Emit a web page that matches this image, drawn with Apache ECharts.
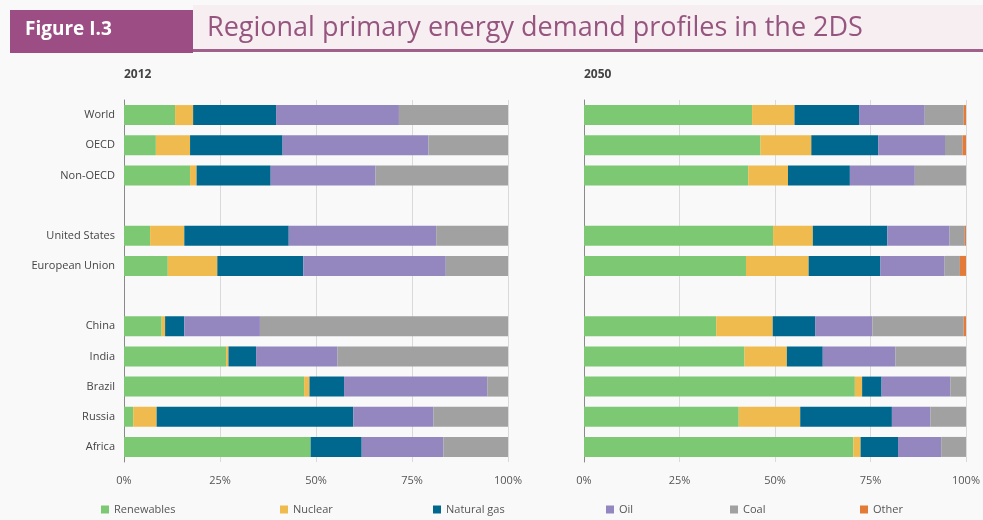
<!DOCTYPE html>
<html>
<head>
<meta charset="utf-8">
<script src="https://cdn.jsdelivr.net/npm/echarts@6/dist/echarts.min.js"></script>
<style>
html,body{margin:0;padding:0;background:#f9f9f9;}
#main{width:983px;height:520px;}
</style>
</head>
<body>
<div id="main"></div>
<script>
// ---- Data ----
var categories = ['World', 'OECD', 'Non-OECD', ' ', 'United States', 'European Union', '  ', 'China', 'India', 'Brazil', 'Russia', 'Africa'];
var tickLabels = ['0%', '25%', '50%', '75%', '100%'];
var seriesNames = ['Renewables', 'Nuclear', 'Natural gas', 'Oil', 'Coal', 'Other'];
var panelTitles = ['2012', '2050'];

var renewables2012 = [13.3, 8.3, 17.2, null, 6.8, 11.4, null, 9.8, 26.6, 46.9, 2.4, 48.6];
var nuclear2012    = [4.7, 8.9, 1.7, null, 8.9, 12.9, null, 0.9, 0.6, 1.4, 6.1, 0];
var gas2012        = [21.6, 24.1, 19.3, null, 27.2, 22.4, null, 5.0, 7.2, 9.0, 51.2, 13.3];
var oil2012        = [32.0, 38.0, 27.3, null, 38.4, 37.1, null, 19.7, 21.2, 37.3, 20.9, 21.3];
var coal2012       = [28.4, 20.7, 34.5, null, 18.7, 16.2, null, 64.6, 44.4, 5.4, 19.4, 16.8];
var other2012      = [0, 0, 0, null, 0, 0, null, 0, 0, 0, 0, 0];

var renewables2050 = [44.0, 46.2, 43.0, null, 49.5, 42.4, null, 34.6, 42.0, 70.9, 40.5, 70.5];
var nuclear2050    = [11.1, 13.3, 10.4, null, 10.4, 16.4, null, 14.8, 11.1, 1.9, 16.1, 1.9];
var gas2050        = [16.9, 17.5, 16.2, null, 19.5, 18.8, null, 11.1, 9.4, 5.1, 24.0, 9.8];
var oil2050        = [17.2, 17.5, 17.0, null, 16.3, 16.8, null, 15.0, 19.0, 18.0, 10.1, 11.3];
var coal2050       = [10.2, 4.6, 13.4, null, 4.0, 4.0, null, 23.9, 18.5, 4.1, 9.3, 6.5];
var other2050      = [0.6, 0.9, 0, null, 0.3, 1.6, null, 0.6, 0, 0, 0, 0];

// ---- Styles ----
var colors = ['#7cc873', '#efbb4e', '#00688e', '#9487bf', '#a1a1a1', '#e47a37'];
var data2012 = [renewables2012, nuclear2012, gas2012, oil2012, coal2012, other2012];
var data2050 = [renewables2050, nuclear2050, gas2050, oil2050, coal2050, other2050];
var FONT = 'Open Sans';

function makeXAxis(gi) {
  return {
    gridIndex: gi, type: 'value', min: 0, max: 100, interval: 25,
    axisLine: {show: false}, axisTick: {show: false},
    splitLine: {show: true, lineStyle: {color: '#dadada', width: 1}},
    axisLabel: {
      margin: 13, color: '#555', fontSize: 11, fontFamily: FONT,
      formatter: function (v) { return tickLabels[Math.round(v / 25)]; }
    }
  };
}
function makeYAxis(gi, showLabels) {
  return {
    gridIndex: gi, type: 'category', data: categories, inverse: true,
    axisLine: {show: true, lineStyle: {color: '#8a8a8a', width: 1}},
    axisTick: {show: false},
    axisLabel: {show: showLabels, margin: 9, color: '#444', fontSize: 11, fontFamily: FONT}
  };
}

var series = [];
[data2012, data2050].forEach(function (panel, gi) {
  panel.forEach(function (arr, si) {
    series.push({
      name: seriesNames[si], type: 'bar', stack: 'p' + gi,
      xAxisIndex: gi, yAxisIndex: gi,
      barWidth: 20,
      itemStyle: {color: colors[si]},
      data: arr
    });
  });
});

var legendX = [96, 275, 428, 601, 725, 855];
var legends = seriesNames.map(function (n, i) {
  return {
    data: [n], left: legendX[i], top: 499, itemWidth: 8, itemHeight: 8, itemGap: 5,
    icon: 'rect',
    textStyle: {color: '#555', fontSize: 11, fontFamily: FONT}
  };
});

var chart = echarts.init(document.getElementById('main'));
chart.setOption({
  backgroundColor: '#f9f9f9',
  animation: false,
  color: colors,
  legend: legends,
  grid: [
    {left: 124, width: 384, top: 100, height: 362},
    {left: 584, width: 384, top: 100, height: 362}
  ],
  xAxis: [makeXAxis(0), makeXAxis(1)],
  yAxis: [makeYAxis(0, true), makeYAxis(1, false)],
  series: series,
  graphic: [
    {type: 'rect', shape: {x: 193, y: 5, width: 790, height: 45}, style: {fill: '#f7eef2'}, silent: true},
    {type: 'rect', shape: {x: 193, y: 49, width: 790, height: 3}, style: {fill: '#a0608c'}, silent: true},
    {type: 'rect', shape: {x: 10, y: 10, width: 183, height: 43}, style: {fill: '#9b4d84'}, silent: true},
    {type: 'text', left: 25, top: 20, style: {text: 'Figure I.3', fill: '#ffffff', font: 'bold 19px "Open Sans"'}},
    {type: 'text', left: 207, top: 15, style: {text: 'Regional primary energy demand profiles in the 2DS', fill: '#96557f', font: '27px "Open Sans"'}},
    {type: 'text', left: 124, top: 69, style: {text: panelTitles[0], fill: '#444', font: 'bold 12px "Open Sans"'}},
    {type: 'text', left: 584, top: 69, style: {text: panelTitles[1], fill: '#444', font: 'bold 12px "Open Sans"'}}
  ]
});
</script>
</body>
</html>
